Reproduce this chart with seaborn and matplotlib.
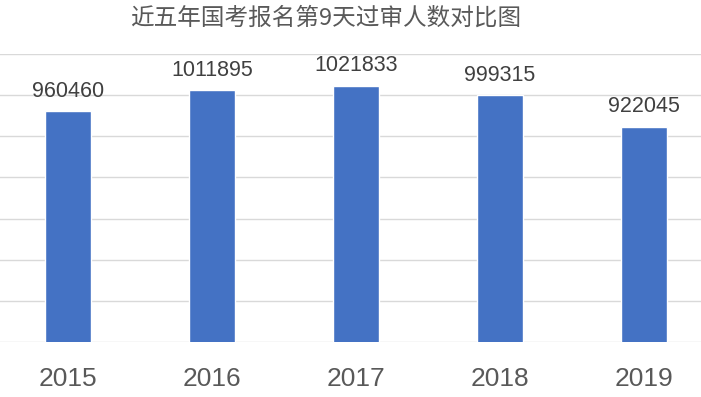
import matplotlib
matplotlib.use("Agg")
import matplotlib.pyplot as plt
import seaborn as sns
import pandas as pd

# Applicants passing review on day 9 of registration, national civil service exam
years = ["2015", "2016", "2017", "2018", "2019"]
approved = [960460, 1011895, 1021833, 999315, 922045]
y_ticks = [400000, 500000, 600000, 700000, 800000, 900000, 1000000, 1100000]
title = "近五年国考报名第9天过审人数对比图"

sns.set_style("white")
plt.rcParams["font.family"] = ["Liberation Sans", "Noto Sans CJK SC", "DejaVu Sans"]

df = pd.DataFrame({"year": years, "count": approved})

fig = plt.figure(figsize=(7.01, 3.97), dpi=100)
ax = fig.add_axes([-4 / 701, 55 / 397, 720 / 701, 288 / 397])

sns.barplot(data=df, x="year", y="count", color="#4472C4", width=0.32,
            saturation=1, ax=ax)

ax.set_xlim(-0.5, len(years) - 0.5)
ax.set_ylim(y_ticks[0], y_ticks[-1])
ax.set_yticks(y_ticks)
ax.set_yticklabels([])
ax.tick_params(axis="y", length=0)
ax.yaxis.grid(True, color="#D9D9D9", linewidth=1)
ax.set_axisbelow(True)
for s in ax.spines.values():
    s.set_visible(False)

ax.set_xlabel("")
ax.set_ylabel("")
ax.tick_params(axis="x", length=0, pad=18, labelsize=19, labelcolor="#595959")

ax.bar_label(ax.containers[0], labels=[str(v) for v in approved], padding=7,
             fontsize=15.5, color="#404040")

fig.text(326 / 701, 1 - 18.5 / 397, title, ha="center", va="center",
         fontsize=17, color="#595959",
         family=["Noto Sans CJK SC", "DejaVu Sans"])

fig.savefig("out.png", dpi=100)
